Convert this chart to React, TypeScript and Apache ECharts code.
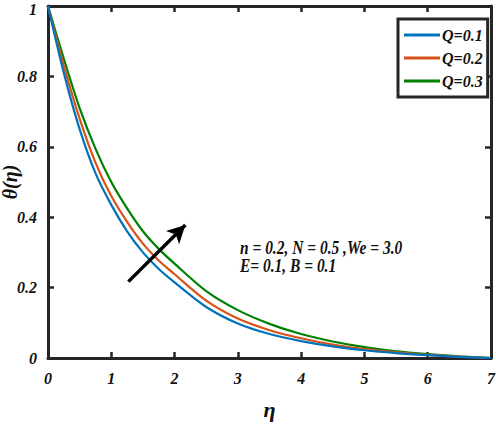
import React, { useEffect, useRef } from 'react';
import * as echarts from 'echarts';

// eta grid and theta(eta) profiles
const etaValues = [0, 0.25, 0.5, 0.75, 1, 1.25, 1.5, 1.75, 2, 2.5, 3, 3.5, 4, 4.5, 5, 5.5, 6, 6.5, 7];
const thetaQ1 = [1, 0.81, 0.65, 0.525, 0.435, 0.36, 0.3, 0.253, 0.215, 0.145, 0.098, 0.068, 0.048, 0.033, 0.022, 0.014, 0.008, 0.003, 0];
const thetaQ2 = [1, 0.83, 0.68, 0.555, 0.46, 0.387, 0.325, 0.277, 0.238, 0.163, 0.112, 0.079, 0.056, 0.038, 0.025, 0.016, 0.009, 0.004, 0];
const thetaQ3 = [1, 0.85, 0.71, 0.595, 0.5, 0.425, 0.36, 0.31, 0.268, 0.19, 0.136, 0.097, 0.068, 0.047, 0.031, 0.019, 0.011, 0.005, 0];

const seriesNames = ['Q=0.1', 'Q=0.2', 'Q=0.3'];
const seriesValues = [thetaQ1, thetaQ2, thetaQ3];
const seriesColors = ['#0072BD', '#D95319', '#008000'];

// arrow in data coordinates (tail -> head)
const arrowFrom = [1.27, 0.217];
const arrowTo = [2.17, 0.378];

const noteLines = ['n = 0.2, N = 0.5 ,We = 3.0', 'E= 0.1, B = 0.1'];

const FONT = 'Liberation Serif, Times New Roman, serif';
const AXIS_COLOR = '#262626';

const axisCommon = {
  axisLine: { show: true, onZero: false, lineStyle: { color: AXIS_COLOR, width: 3 } },
  axisTick: { show: true, inside: true, length: 6, lineStyle: { color: AXIS_COLOR, width: 2.5 } },
  splitLine: { show: false },
};

const labelStyle = {
  color: '#111',
  fontFamily: FONT,
  fontWeight: 'bold' as const,
  fontStyle: 'italic' as const,
  fontSize: 15,
};

const App = (): JSX.Element => {
  const divEL = useRef<HTMLDivElement>(null);

  useEffect(() => {
    const instance = echarts.init(divEL.current as any, null, { renderer: 'svg' });

    const option: any = {
      animation: false,
      backgroundColor: '#ffffff',
      grid: { left: 48, right: 5, top: 6, bottom: 66, outerBoundsMode: 'none' },
      legend: {
        data: seriesNames,
        orient: 'vertical',
        left: 398,
        top: 19,
        padding: [8, 5, 8, 6],
        itemGap: 7,
        itemWidth: 36,
        itemHeight: 3,
        icon: 'rect',
        borderColor: AXIS_COLOR,
        borderWidth: 3,
        backgroundColor: '#fff',
        textStyle: { ...labelStyle, fontSize: 16, padding: [0, 0, 0, -3] },
      },
      xAxis: [
        {
          type: 'value',
          min: 0,
          max: 7,
          interval: 1,
          name: 'η',
          nameLocation: 'middle',
          nameGap: 40,
          nameTextStyle: { ...labelStyle, fontSize: 22 },
          axisLabel: { ...labelStyle, fontSize: 16, margin: 12 },
          ...axisCommon,
        },
        {
          type: 'value',
          position: 'top',
          min: 0,
          max: 7,
          interval: 1,
          axisLabel: { show: false },
          ...axisCommon,
        },
      ],
      yAxis: [
        {
          type: 'value',
          min: 0,
          max: 1,
          interval: 0.2,
          name: 'θ(η)',
          nameLocation: 'middle',
          nameGap: 28,
          nameMoveOverlap: false,
          nameTextStyle: { ...labelStyle, fontSize: 20 },
          axisLabel: {
            ...labelStyle,
            fontSize: 16,
            margin: 11,
            formatter: (v: number) => (v === 1 ? '{top|1}' : String(v)),
            rich: { top: { ...labelStyle, fontSize: 16, padding: [7, 0, 0, 0] } },
          },
          ...axisCommon,
        },
        {
          type: 'value',
          position: 'right',
          min: 0,
          max: 1,
          interval: 0.2,
          axisLabel: { show: false },
          ...axisCommon,
        },
      ],
      series: seriesNames.map((name, i) => ({
        name,
        type: 'line',
        showSymbol: false,
        symbol: 'none',
        smooth: 0.3,
        color: seriesColors[i],
        lineStyle: { width: 2.2, color: seriesColors[i] },
        data: etaValues.map((eta, j) => [eta, seriesValues[i][j]]),
        z: 3 - i,
        markLine:
          i === 0
            ? {
                silent: true,
                symbol: ['none', 'arrow'],
                symbolSize: [14, 18],
                label: { show: false },
                lineStyle: { color: '#000', width: 3.5, type: 'solid' },
                data: [[{ coord: arrowFrom }, { coord: arrowTo }]],
                z: 10,
              }
            : undefined,
      })),
      graphic: noteLines.map((line, k) => ({
        type: 'text',
        x: 240,
        y: 248 + k * 18,
        scaleX: 0.86,
        style: {
          text: line,
          fill: '#111',
          fontFamily: FONT,
          fontWeight: 'bold',
          fontStyle: 'italic',
          fontSize: 18,
          verticalAlign: 'middle',
        },
      })),
    };

    instance.setOption(option);

    return () => {
      instance.dispose();
    };
  }, []);

  return (
    <div
      ref={divEL}
      style={{ position: 'fixed', left: 0, top: 0, width: 496, height: 424, background: '#fff' }}
    ></div>
  );
};

export default App;
